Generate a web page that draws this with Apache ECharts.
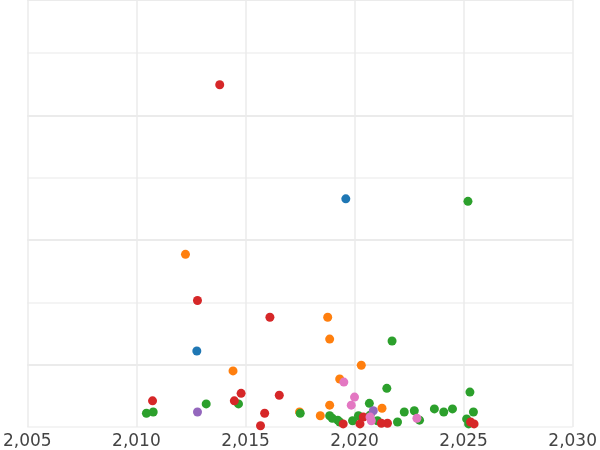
<!DOCTYPE html>
<html>
<head>
<meta charset="utf-8">
<script src="https://cdn.jsdelivr.net/npm/echarts@6/dist/echarts.min.js"></script>
<style>html,body{margin:0;padding:0;background:#fff;overflow:hidden}#chart{width:600px;height:450px}</style>
</head>
<body>
<div id="chart"></div>
<script>
// [year, value]
var redPts = [[2013.82,5.49],[2012.80,2.03],[2016.12,1.76],[2010.74,0.42],[2014.49,0.42],[2014.80,0.54],[2015.88,0.22],[2016.55,0.51],[2015.69,0.02],[2019.48,0.05],[2020.40,0.16],[2020.25,0.05],[2021.51,0.06],[2021.23,0.06],[2025.48,0.05],[2025.32,0.08]];
var bluePts = [[2019.60,3.66],[2012.77,1.22]];
var orangePts = [[2012.25,2.77],[2014.43,0.90],[2018.77,1.76],[2018.86,1.41],[2020.31,0.99],[2019.32,0.77],[2018.86,0.35],[2018.43,0.18],[2021.26,0.30],[2017.48,0.24]];
var greenPts = [[2010.46,0.22],[2010.77,0.24],[2013.20,0.37],[2014.68,0.37],[2017.51,0.22],[2018.86,0.18],[2018.98,0.14],[2019.23,0.11],[2019.32,0.08],[2019.91,0.10],[2020.18,0.18],[2020.68,0.38],[2020.71,0.19],[2021.48,0.62],[2021.72,1.38],[2021.05,0.10],[2022.28,0.24],[2022.74,0.26],[2022.98,0.11],[2021.97,0.08],[2023.66,0.29],[2024.09,0.24],[2024.49,0.29],[2025.20,3.62],[2025.29,0.56],[2025.14,0.13],[2025.45,0.24],[2025.23,0.05]];
var purplePts = [[2012.80,0.24],[2020.86,0.26]];
var pinkPts = [[2019.51,0.72],[2020.00,0.48],[2019.85,0.35],[2020.77,0.10],[2022.86,0.14],[2020.71,0.16]];

var groups = [
  { data: bluePts, color: '#1f77b4' },
  { data: orangePts, color: '#ff7f0e' },
  { data: greenPts, color: '#2ca02c' },
  { data: redPts, color: '#d62728' },
  { data: purplePts, color: '#9467bd' },
  { data: pinkPts, color: '#e377c2' }
];

var mychart = echarts.init(document.getElementById('chart'));
var option = {
  animation: false,
  // axis spans 2005-2030, the window only shows ~2008.5-2026.9
  grid: { left: -112.5, right: -100, top: 0, bottom: 22 },
  xAxis: {
    type: 'value', min: 2005, max: 2030, interval: 5,
    axisLine: { show: false }, axisTick: { show: false },
    axisLabel: { color: '#444', fontSize: 17, fontFamily: 'DejaVu Sans', margin: 6 },
    splitLine: { show: true, lineStyle: { color: '#ebebeb', width: 1.5 } }
  },
  yAxis: {
    type: 'value', min: 0, max: 6.85, interval: 1,
    axisLine: { show: false }, axisTick: { show: false }, axisLabel: { show: false },
    splitLine: { show: true, lineStyle: { color: ['#f0f0f0', '#e4e4e4'], width: 1.5 } }
  },
  series: groups.map(function (g) {
    return {
      type: 'scatter', data: g.data, symbolSize: 9,
      itemStyle: { color: g.color, opacity: 1 }
    };
  })
};
mychart.setOption(option);
</script>
</body>
</html>
